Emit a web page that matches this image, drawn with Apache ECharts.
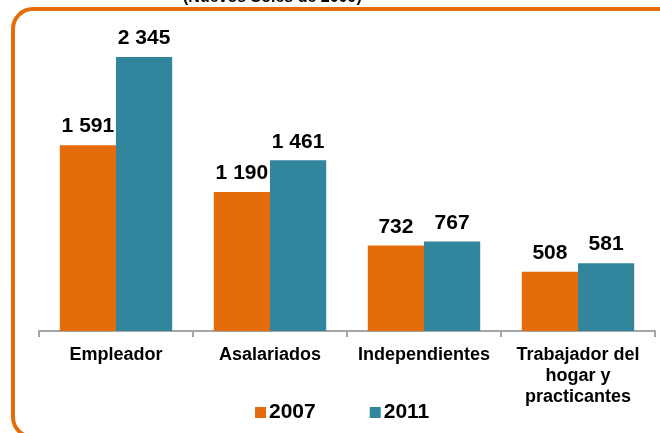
<!DOCTYPE html>
<html>
<head>
<meta charset="utf-8">
<script src="https://cdn.jsdelivr.net/npm/echarts@6/dist/echarts.min.js"></script>
<style>
  html, body { margin: 0; padding: 0; background: #fff; }
  .echarts { width: 660px; height: 433px; }
</style>
</head>
<body>
<div class="echarts"></div>
<script>
const categories = ['Empleador', 'Asalariados', 'Independientes', 'Trabajador del\nhogar y\npracticantes'];
const years = ['2007', '2011'];
const values2007 = [1591, 1190, 732, 508];
const values2011 = [2345, 1461, 767, 581];

window.addEventListener('load', function () {
    let myChart = echarts.init(document.querySelector('.echarts'));

    // numbers use a space as thousands separator
    function fmt(p) {
        return String(p.value).replace(/\B(?=(\d{3})+(?!\d))/g, ' ');
    }

    let labelStyle = {
        show: true,
        position: 'top',
        distance: 8,
        formatter: fmt,
        color: '#000',
        fontFamily: 'Liberation Sans',
        fontWeight: 'bold',
        fontSize: 21
    };

    let option = {
        animation: false,
        graphic: [{
            type: 'rect',
            shape: { x: 13, y: 9, width: 700, height: 428, r: 20 },
            style: { fill: 'none', stroke: '#E46C0A', lineWidth: 4 },
            z: -1
        }, {
            type: 'text',
            left: 183,
            top: -10,
            style: {
                text: '(Nuevos Soles de 2009)',
                fill: '#000',
                font: 'bold 16px "Liberation Sans"'
            }
        }],
        legend: {
            data: years,
            bottom: 5,
            left: 250,
            itemGap: 54,
            itemWidth: 11,
            itemHeight: 11,
            icon: 'rect',
            textStyle: {
                color: '#000',
                fontFamily: 'Liberation Sans',
                fontWeight: 'bold',
                fontSize: 21,
                padding: [0, 0, 0, -2]
            }
        },
        grid: {
            left: 39,
            right: 5,
            top: 39,
            bottom: 102
        },
        xAxis: {
            type: 'category',
            data: categories,
            axisLine: { lineStyle: { color: '#A6A6A6', width: 2 } },
            axisTick: { show: true, interval: 0, length: 6, lineStyle: { color: '#A6A6A6', width: 2 } },
            axisLabel: {
                interval: 0,
                color: '#000',
                fontFamily: 'Liberation Sans',
                fontWeight: 'bold',
                fontSize: 18,
                lineHeight: 21,
                margin: 14
            }
        },
        yAxis: {
            type: 'value',
            min: 0,
            max: 2500,
            show: false,
            splitLine: { show: false }
        },
        series: [{
            name: '2007',
            type: 'bar',
            data: values2007,
            color: '#E46C0A',
            barGap: '0%',
            barCategoryGap: '27%',
            label: labelStyle
        }, {
            name: '2011',
            type: 'bar',
            data: values2011,
            color: '#31859C',
            barGap: '0%',
            barCategoryGap: '27%',
            label: labelStyle
        }]
    };
    myChart.setOption(option);
});
</script>
</body>
</html>
